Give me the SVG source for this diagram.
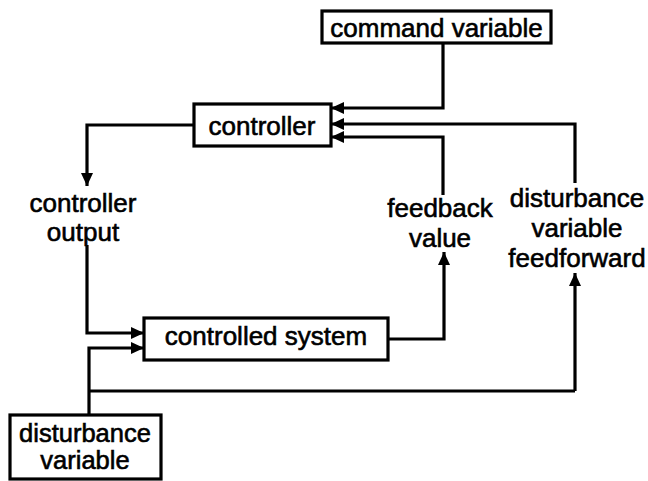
<svg xmlns="http://www.w3.org/2000/svg" width="648" height="481" viewBox="0 0 648 481">
<defs>
<marker id="ah" markerWidth="13" markerHeight="12" refX="13" refY="6" orient="auto" markerUnits="userSpaceOnUse">
<path d="M0,0 L13,6 L0,12 Z" fill="#000"/>
</marker>
</defs>
<style>
.box{fill:#fff;stroke:#000;stroke-width:3.2}
.t{font-family:"Liberation Sans",Arial,sans-serif;font-size:26px;fill:#000;stroke:#000;stroke-width:0.6;text-anchor:middle}
.s{font-size:25.5px}
.c{fill:none;stroke:#000;stroke-width:3.2;marker-end:url(#ah)}
.n{fill:none;stroke:#000;stroke-width:3.2}
</style>
<rect width="648" height="481" fill="#fff"/>
<g id="connectors">
<path class="c" d="M443,43 V108 H331"/>
<path class="c" d="M575,183 V124 H331"/>
<path class="c" d="M443,195 V137 H331"/>
<path class="c" d="M193,125 H87 V186"/>
<path class="c" d="M87,245 V333 H144"/>
<path class="c" d="M89,414 V348 H144"/>
<path class="n" d="M89,391 H575"/>
<path class="c" d="M575,391 V273"/>
<path class="c" d="M388,339 H444 V252"/>
</g>
<g id="command-variable">
<rect class="box" x="322" y="11" width="229" height="32"/>
<text class="t" x="436.5" y="37">command variable</text>
</g>
<g id="controller">
<rect class="box" x="194" y="104" width="137" height="42"/>
<text class="t" x="262" y="135">controller</text>
</g>
<g id="controller-output">
<text class="t" x="83" y="212">controller</text>
<text class="t" x="83" y="241">output</text>
</g>
<g id="feedback-value">
<text class="t" x="440" y="217">feedback</text>
<text class="t" x="440" y="247">value</text>
</g>
<g id="disturbance-feedforward">
<text class="t" x="577" y="207">disturbance</text>
<text class="t" x="577" y="237">variable</text>
<text class="t" x="577" y="267">feedforward</text>
</g>
<g id="controlled-system">
<rect class="box" x="144" y="318" width="244" height="42"/>
<text class="t" x="266" y="345">controlled system</text>
</g>
<g id="disturbance-variable">
<rect class="box" x="10" y="415" width="151" height="64"/>
<text class="t s" x="85" y="442">disturbance</text>
<text class="t s" x="85" y="469">variable</text>
</g>
</svg>
